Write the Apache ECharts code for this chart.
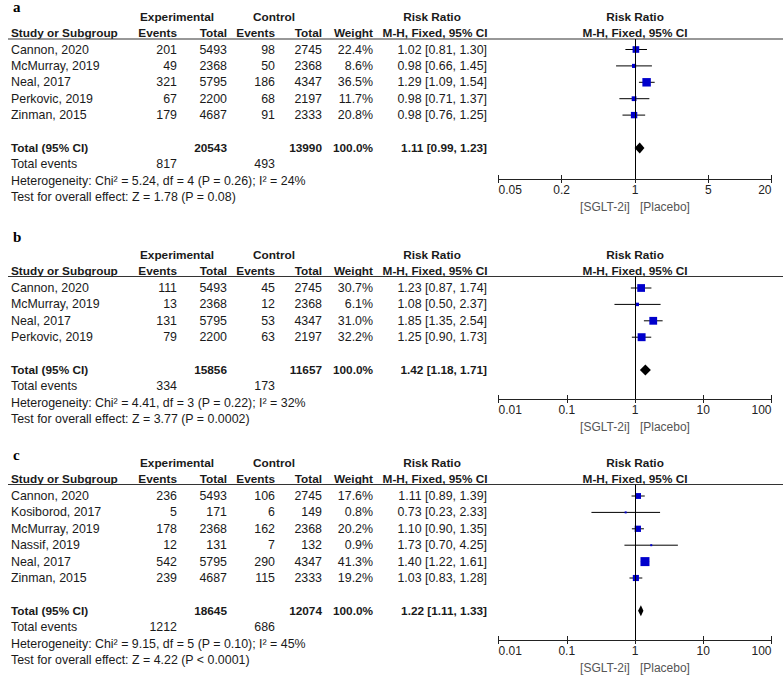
<!DOCTYPE html>
<html><head><meta charset="utf-8">
<script src="https://cdn.jsdelivr.net/npm/echarts@6/dist/echarts.min.js"></script>
<style>html,body{margin:0;padding:0;background:#fff}#chart{width:783px;height:675px}</style>
</head><body><div id="chart"></div>
<script>
// ---------- Panel a ----------
const aStudies   = ['Cannon, 2020','McMurray, 2019','Neal, 2017','Perkovic, 2019','Zinman, 2015'];
const aExpEvents = [201, 49, 321, 67, 179];
const aExpTotal  = [5493, 2368, 5795, 2200, 4687];
const aCtlEvents = [98, 50, 186, 68, 91];
const aCtlTotal  = [2745, 2368, 4347, 2197, 2333];
const aWeight    = [22.4, 8.6, 36.5, 11.7, 20.8];
const aRR        = [1.02, 0.98, 1.29, 0.98, 0.98];
const aLow       = [0.81, 0.66, 1.09, 0.71, 0.76];
const aHigh      = [1.30, 1.45, 1.54, 1.37, 1.25];
const aTotals    = [20543, 13990];
const aTotEvents = [817, 493];
const aPooled    = [1.11, 0.99, 1.23];
const aHet       = 'Heterogeneity: Chi² = 5.24, df = 4 (P = 0.26); I² = 24%';
const aTest      = 'Test for overall effect: Z = 1.78 (P = 0.08)';
const aTicks     = [0.05, 0.2, 1, 5, 20];

// ---------- Panel b ----------
const bStudies   = ['Cannon, 2020','McMurray, 2019','Neal, 2017','Perkovic, 2019'];
const bExpEvents = [111, 13, 131, 79];
const bExpTotal  = [5493, 2368, 5795, 2200];
const bCtlEvents = [45, 12, 53, 63];
const bCtlTotal  = [2745, 2368, 4347, 2197];
const bWeight    = [30.7, 6.1, 31.0, 32.2];
const bRR        = [1.23, 1.08, 1.85, 1.25];
const bLow       = [0.87, 0.50, 1.35, 0.90];
const bHigh      = [1.74, 2.37, 2.54, 1.73];
const bTotals    = [15856, 11657];
const bTotEvents = [334, 173];
const bPooled    = [1.42, 1.18, 1.71];
const bHet       = 'Heterogeneity: Chi² = 4.41, df = 3 (P = 0.22); I² = 32%';
const bTest      = 'Test for overall effect: Z = 3.77 (P = 0.0002)';
const bTicks     = [0.01, 0.1, 1, 10, 100];

// ---------- Panel c ----------
const cStudies   = ['Cannon, 2020','Kosiborod, 2017','McMurray, 2019','Nassif, 2019','Neal, 2017','Zinman, 2015'];
const cExpEvents = [236, 5, 178, 12, 542, 239];
const cExpTotal  = [5493, 171, 2368, 131, 5795, 4687];
const cCtlEvents = [106, 6, 162, 7, 290, 115];
const cCtlTotal  = [2745, 149, 2368, 132, 4347, 2333];
const cWeight    = [17.6, 0.8, 20.2, 0.9, 41.3, 19.2];
const cRR        = [1.11, 0.73, 1.10, 1.73, 1.40, 1.03];
const cLow       = [0.89, 0.23, 0.90, 0.70, 1.22, 0.83];
const cHigh      = [1.39, 2.33, 1.35, 4.25, 1.61, 1.28];
const cTotals    = [18645, 12074];
const cTotEvents = [1212, 686];
const cPooled    = [1.22, 1.11, 1.33];
const cHet       = 'Heterogeneity: Chi² = 9.15, df = 5 (P = 0.10); I² = 45%';
const cTest      = 'Test for overall effect: Z = 4.22 (P < 0.0001)';
const cTicks     = [0.01, 0.1, 1, 10, 100];

const panelLabels = ['a', 'b', 'c'];
const axisName = '[SGLT-2i]   [Placebo]';

// ---------- styling / layout ----------
const FONT = 'Liberation Sans, Arial, sans-serif';
const FS = 12.4, FSB = 11.8;
const TEXT = '#1a1a1a';
const BLUE = '#0000cc';
const PITCH = 16.4;
const PLOT_LEFT = 498.5, PLOT_W = 273;
const layout = [
  {lineY: 39,    row0: 49.5, axisY: 179, labelY: 7},
  {lineY: 276.5, row0: 288,  axisY: 399, labelY: 237},
  {lineY: 484.5, row0: 496,  axisY: 640, labelY: 455}
];
const COL = {study: 11, expEv: 177, expTot: 227, ctlEv: 275, ctlTot: 322, weight: 373, rr: 487, rrHead: 435, forest: 635};

const panels = [
  {studies: aStudies, ee: aExpEvents, et: aExpTotal, ce: aCtlEvents, ct: aCtlTotal, w: aWeight, rr: aRR, lo: aLow, hi: aHigh, totals: aTotals, tev: aTotEvents, pooled: aPooled, het: aHet, test: aTest, ticks: aTicks},
  {studies: bStudies, ee: bExpEvents, et: bExpTotal, ce: bCtlEvents, ct: bCtlTotal, w: bWeight, rr: bRR, lo: bLow, hi: bHigh, totals: bTotals, tev: bTotEvents, pooled: bPooled, het: bHet, test: bTest, ticks: bTicks},
  {studies: cStudies, ee: cExpEvents, et: cExpTotal, ce: cCtlEvents, ct: cCtlTotal, w: cWeight, rr: cRR, lo: cLow, hi: cHigh, totals: cTotals, tev: cTotEvents, pooled: cPooled, het: cHet, test: cTest, ticks: cTicks}
];

const f2 = v => v.toFixed(2);
const ciText = (e, l, h) => f2(e) + ' [' + f2(l) + ', ' + f2(h) + ']';

function buildRows(p) {
  const rows = [];
  const n = p.studies.length;
  for (let i = 0; i < n; i++) {
    rows.push({row: i, cells: [
      {x: COL.study, t: p.studies[i], a: 'left'},
      {x: COL.expEv, t: String(p.ee[i]), a: 'right'},
      {x: COL.expTot, t: String(p.et[i]), a: 'right'},
      {x: COL.ctlEv, t: String(p.ce[i]), a: 'right'},
      {x: COL.ctlTot, t: String(p.ct[i]), a: 'right'},
      {x: COL.weight, t: p.w[i].toFixed(1) + '%', a: 'right'},
      {x: COL.rr, t: ciText(p.rr[i], p.lo[i], p.hi[i]), a: 'right'}
    ]});
  }
  rows.push({row: n + 1, cells: [
    {x: COL.study, t: 'Total (95% CI)', a: 'left', b: true},
    {x: COL.expTot, t: String(p.totals[0]), a: 'right', b: true},
    {x: COL.ctlTot, t: String(p.totals[1]), a: 'right', b: true},
    {x: COL.weight, t: '100.0%', a: 'right', b: true},
    {x: COL.rr, t: ciText(p.pooled[0], p.pooled[1], p.pooled[2]), a: 'right', b: true}
  ]});
  rows.push({row: n + 2, cells: [
    {x: COL.study, t: 'Total events', a: 'left'},
    {x: COL.expEv, t: String(p.tev[0]), a: 'right'},
    {x: COL.ctlEv, t: String(p.tev[1]), a: 'right'}
  ]});
  rows.push({row: n + 3, cells: [{x: COL.study, t: p.het, a: 'left'}]});
  rows.push({row: n + 4, cells: [{x: COL.study, t: p.test, a: 'left'}]});
  return rows;
}

const grids = [], xAxes = [], yAxes = [], series = [], graphics = [];

panels.forEach((p, k) => {
  const L = layout[k];
  const ymin = -(L.row0 - L.lineY) / PITCH;
  const ymax = ymin + (L.axisY - L.lineY) / PITCH;
  const xmin = p.ticks[0], xmax = p.ticks[p.ticks.length - 1];
  const gMain = 2 * k, gTick = 2 * k + 1;
  const gridBox = {left: PLOT_LEFT, width: PLOT_W, top: L.lineY, height: L.axisY - L.lineY, containLabel: false};
  grids.push(Object.assign({}, gridBox));
  grids.push(Object.assign({}, gridBox));
  const fmt = v => { let best = p.ticks[0]; p.ticks.forEach(t => { if (Math.abs(Math.log10(t) - Math.log10(v)) < Math.abs(Math.log10(best) - Math.log10(v))) best = t; }); return String(best); };
  xAxes.push({
    type: 'log', logBase: 10, gridIndex: gMain, min: xmin, max: xmax, position: 'bottom',
    axisLine: {show: true, onZero: false, lineStyle: {color: '#222', width: 1}},
    axisTick: {show: true, inside: false, length: 4, customValues: p.ticks, lineStyle: {color: '#222', width: 1}},
    axisLabel: {show: true, customValues: p.ticks, formatter: fmt, color: '#222', fontSize: 12, fontFamily: FONT, margin: 5,
                alignMinLabel: 'left', alignMaxLabel: 'right'},
    splitLine: {show: false}, minorTick: {show: false},
    name: axisName, nameLocation: 'middle', nameGap: 22,
    nameTextStyle: {color: '#555', fontSize: 12, fontFamily: FONT}
  });
  xAxes.push({
    type: 'log', logBase: 10, gridIndex: gTick, min: xmin, max: xmax, position: 'bottom',
    axisLine: {show: false, onZero: false},
    axisTick: {show: true, inside: true, length: 4, customValues: p.ticks, lineStyle: {color: '#222', width: 1}},
    axisLabel: {show: false}, splitLine: {show: false}
  });
  yAxes.push({type: 'value', gridIndex: gMain, inverse: true, min: ymin, max: ymax, show: false});
  yAxes.push({type: 'value', gridIndex: gTick, inverse: true, min: ymin, max: ymax, show: false});

  const xi = gMain, yi = gMain;
  const rows = buildRows(p);
  // table text
  series.push({
    type: 'custom', xAxisIndex: xi, yAxisIndex: yi, silent: true, clip: false,
    encode: {x: 0, y: 1},
    data: rows.map(r => [1, r.row]),
    renderItem: (params, api) => {
      const meta = rows[params.dataIndex];
      const y = api.coord([1, api.value(1)])[1];
      return {type: 'group', children: meta.cells.map(c => ({
        type: 'text', x: c.x, y: y,
        style: {text: c.t, align: c.a, verticalAlign: 'middle', fill: TEXT,
                fontSize: c.b ? FSB : FS, fontWeight: c.b ? 'bold' : 'normal', fontFamily: FONT}
      }))};
    }
  });
  // CI whiskers
  series.push({
    type: 'custom', xAxisIndex: xi, yAxisIndex: yi, silent: true,
    encode: {x: [0, 1], y: 2},
    data: p.studies.map((s, i) => [p.lo[i], p.hi[i], i]),
    renderItem: (params, api) => {
      const a = api.coord([api.value(0), api.value(2)]);
      const b = api.coord([api.value(1), api.value(2)]);
      return {type: 'line', shape: {x1: a[0], y1: a[1], x2: b[0], y2: b[1]}, style: {stroke: '#000', lineWidth: 1}};
    }
  });
  // weighted boxes + null line
  series.push({
    type: 'scatter', xAxisIndex: xi, yAxisIndex: yi, silent: true, symbol: 'rect',
    data: p.studies.map((s, i) => [p.rr[i], i, p.w[i]]),
    symbolSize: v => Math.max(2, 1.4 * Math.sqrt(v[2])),
    itemStyle: {color: BLUE, opacity: 1},
    z: 3,
    markLine: {silent: true, symbol: ['none', 'none'], label: {show: false},
      lineStyle: {color: '#000', width: 1, type: 'solid'}, animation: false,
      data: [{xAxis: 1}]}
  });
  // pooled diamond
  const n = p.studies.length;
  series.push({
    type: 'custom', xAxisIndex: xi, yAxisIndex: yi, silent: true, z: 4,
    encode: {x: [0, 1, 2], y: 3},
    data: [[p.pooled[0], p.pooled[1], p.pooled[2], n + 1]],
    renderItem: (params, api) => {
      const r = api.value(3);
      const c = api.coord([api.value(0), r]);
      const l = api.coord([api.value(1), r]);
      const h = api.coord([api.value(2), r]);
      const H = 5.5;
      return {type: 'polygon', shape: {points: [[l[0], l[1]], [c[0], c[1] - H], [h[0], h[1]], [c[0], c[1] + H]]}, style: {fill: '#000'}};
    }
  });

  // headers
  const hStyle = (t, x, y, align) => ({type: 'text', x: x, y: y, silent: true,
    style: {text: t, align: align, verticalAlign: 'middle', fill: TEXT, fontSize: FSB, fontWeight: 'bold', fontFamily: FONT}});
  const y1 = L.lineY - 22, y2 = L.lineY - 6;
  graphics.push({type: 'text', x: 13, y: L.labelY, silent: true,
    style: {text: panelLabels[k], align: 'left', verticalAlign: 'middle', fill: '#000', fontSize: 15, fontWeight: 'bold', fontFamily: 'Liberation Serif, Times New Roman, serif'}});
  graphics.push(hStyle('Experimental', 177, y1, 'center'));
  graphics.push(hStyle('Control', 274, y1, 'center'));
  graphics.push(hStyle('Risk Ratio', COL.rrHead - 3, y1, 'center'));
  graphics.push(hStyle('Risk Ratio', COL.forest, y1, 'center'));
  graphics.push(hStyle('Study or Subgroup', COL.study, y2, 'left'));
  graphics.push(hStyle('Events', COL.expEv, y2, 'right'));
  graphics.push(hStyle('Total', COL.expTot, y2, 'right'));
  graphics.push(hStyle('Events', COL.ctlEv, y2, 'right'));
  graphics.push(hStyle('Total', COL.ctlTot, y2, 'right'));
  graphics.push(hStyle('Weight', COL.weight, y2, 'right'));
  graphics.push(hStyle('M-H, Fixed, 95% CI', COL.rrHead, y2, 'center'));
  graphics.push(hStyle('M-H, Fixed, 95% CI', COL.forest, y2, 'center'));
  graphics.push({type: 'line', silent: true, shape: {x1: 8, y1: L.lineY, x2: 783, y2: L.lineY}, style: {stroke: '#333', lineWidth: 1.2}});
});

const chart = echarts.init(document.getElementById('chart'), null, {renderer: 'svg', width: 783, height: 675});
chart.setOption({
  animation: false,
  backgroundColor: '#fff',
  grid: grids,
  xAxis: xAxes,
  yAxis: yAxes,
  series: series,
  graphic: graphics
});
</script>
</body></html>
